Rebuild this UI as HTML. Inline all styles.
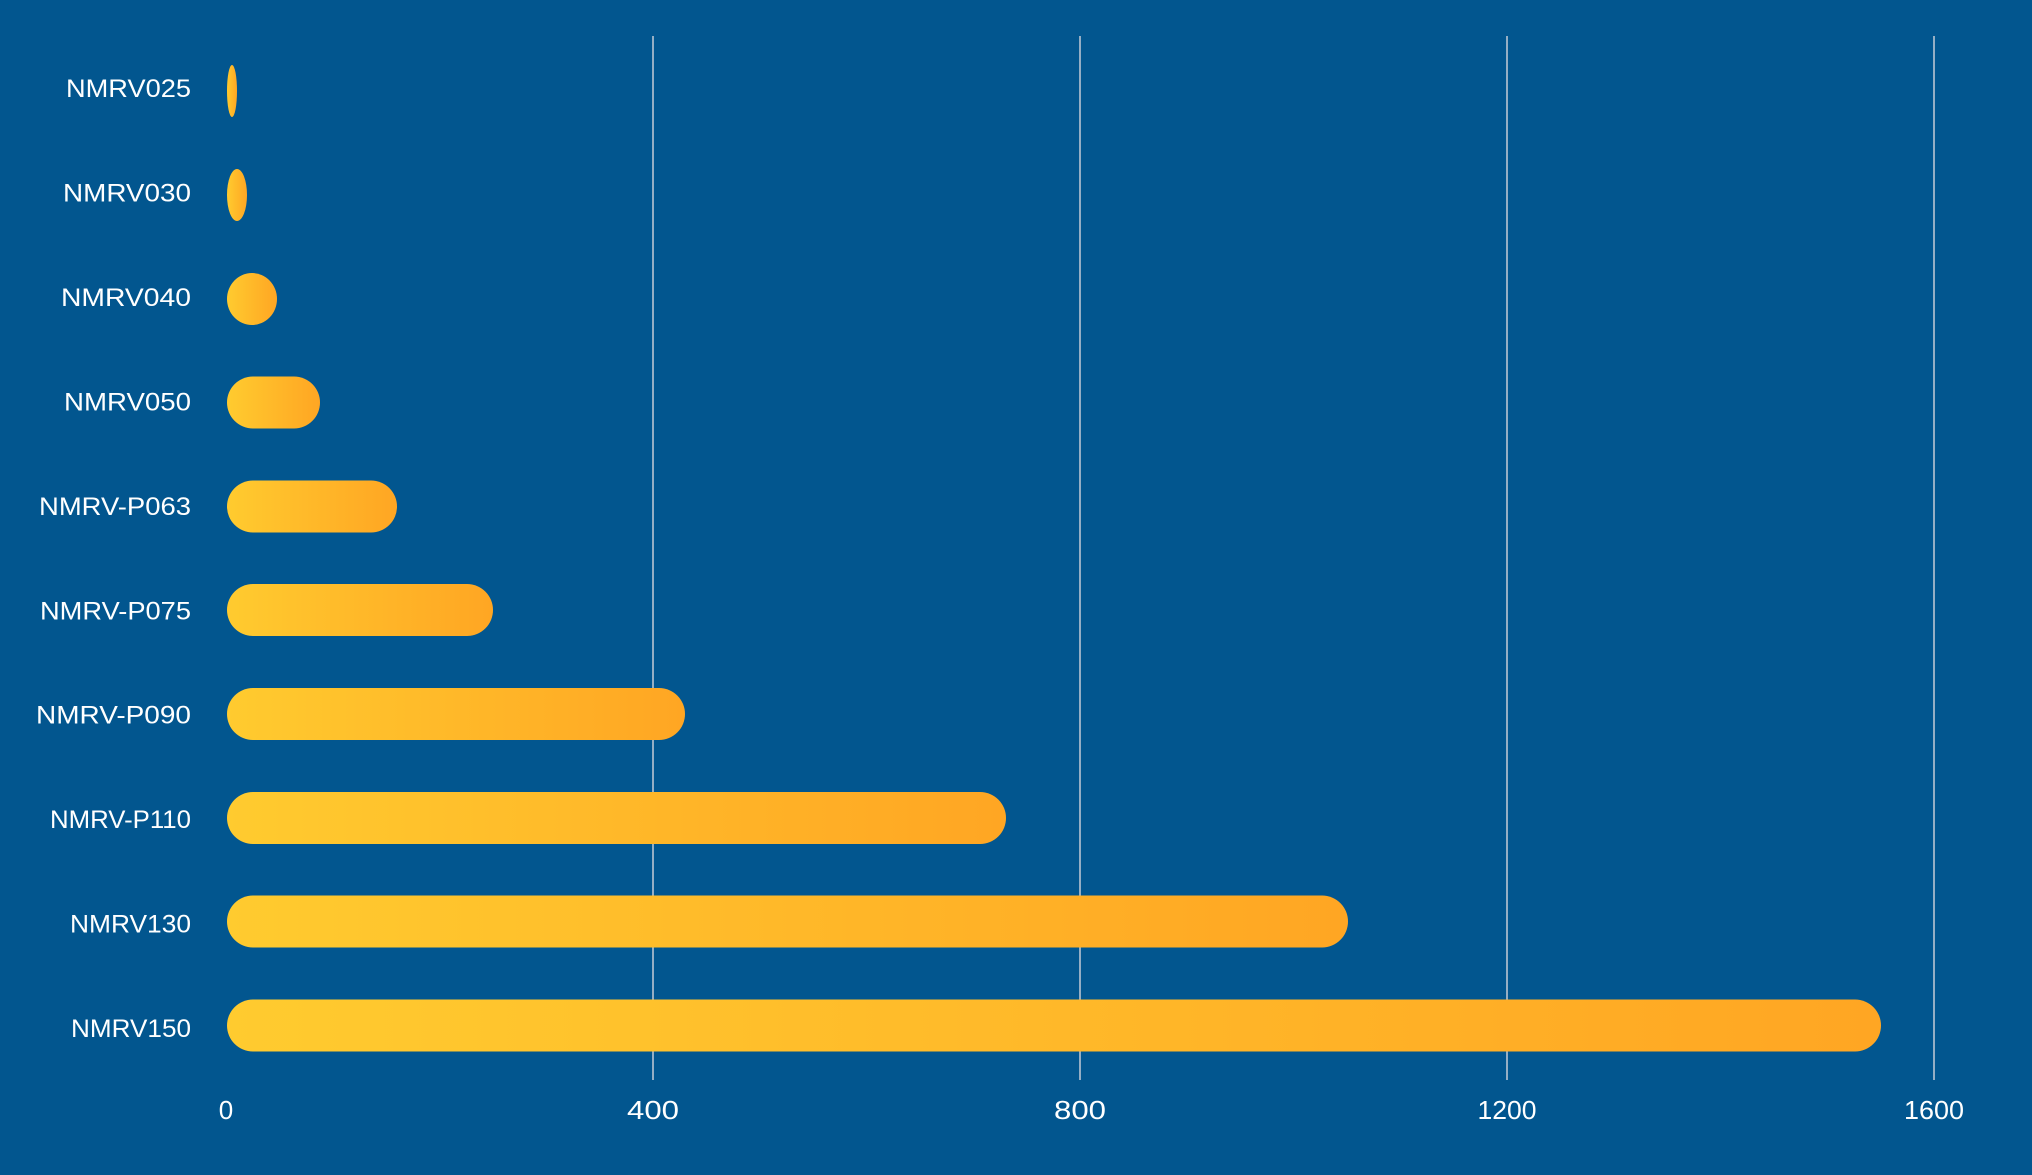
<!DOCTYPE html>
<html>
<head>
<meta charset="utf-8">
<style>
  html, body { margin: 0; padding: 0; background: #02568F; }
  body { width: 2032px; height: 1175px; overflow: hidden; }
  svg { display: block; }
  text { font-family: "Liberation Sans", "DejaVu Sans", sans-serif; fill: #ffffff; }
</style>
</head>
<body>
<svg width="2032" height="1175" viewBox="0 0 2032 1175" xmlns="http://www.w3.org/2000/svg">
  <defs>
    <linearGradient id="g" x1="0" y1="0" x2="1" y2="0">
      <stop offset="0" stop-color="#FFCB2F"/>
      <stop offset="1" stop-color="#FFA623"/>
    </linearGradient>
  </defs>
  <rect x="0" y="0" width="2032" height="1175" fill="#02568F"/>

  <!-- gridlines -->
  <g stroke="#C6CCD6" stroke-width="1.5">
    <line x1="653" y1="36" x2="653" y2="1080"/>
    <line x1="1080" y1="36" x2="1080" y2="1080"/>
    <line x1="1507" y1="36" x2="1507" y2="1080"/>
    <line x1="1934" y1="36" x2="1934" y2="1080"/>
  </g>

  <!-- bars -->
  <g fill="url(#g)">
    <rect x="227" y="65" width="10" height="52" rx="26" ry="26"/>
    <rect x="227" y="169" width="20" height="52" rx="26" ry="26"/>
    <rect x="227" y="273" width="50" height="52" rx="26" ry="26"/>
    <rect x="227" y="376.5" width="93" height="52" rx="26" ry="26"/>
    <rect x="227" y="480.5" width="170" height="52" rx="26" ry="26"/>
    <rect x="227" y="584" width="266" height="52" rx="26" ry="26"/>
    <rect x="227" y="688" width="458" height="52" rx="26" ry="26"/>
    <rect x="227" y="792" width="779" height="52" rx="26" ry="26"/>
    <rect x="227" y="895.5" width="1121" height="52" rx="26" ry="26"/>
    <rect x="227" y="999.5" width="1654" height="52" rx="26" ry="26"/>
  </g>

  <!-- y labels -->
  <g font-size="25" text-anchor="end">
    <text x="191" y="97" textLength="125" lengthAdjust="spacingAndGlyphs">NMRV025</text>
    <text x="191" y="201.5" textLength="128" lengthAdjust="spacingAndGlyphs">NMRV030</text>
    <text x="191" y="306" textLength="130" lengthAdjust="spacingAndGlyphs">NMRV040</text>
    <text x="191" y="410.4" textLength="127" lengthAdjust="spacingAndGlyphs">NMRV050</text>
    <text x="191" y="515" textLength="152" lengthAdjust="spacingAndGlyphs">NMRV-P063</text>
    <text x="191" y="619.3" textLength="151" lengthAdjust="spacingAndGlyphs">NMRV-P075</text>
    <text x="191" y="723.7" textLength="155" lengthAdjust="spacingAndGlyphs">NMRV-P090</text>
    <text x="191" y="828.2" textLength="141" lengthAdjust="spacingAndGlyphs">NMRV-P110</text>
    <text x="191" y="932.6" textLength="121" lengthAdjust="spacingAndGlyphs">NMRV130</text>
    <text x="191" y="1037" textLength="120" lengthAdjust="spacingAndGlyphs">NMRV150</text>
  </g>

  <!-- x tick labels -->
  <g font-size="26" text-anchor="middle">
    <text x="226" y="1119">0</text>
    <text x="653" y="1119" textLength="52" lengthAdjust="spacingAndGlyphs">400</text>
    <text x="1080" y="1119" textLength="52" lengthAdjust="spacingAndGlyphs">800</text>
    <text x="1507" y="1119" textLength="59" lengthAdjust="spacingAndGlyphs">1200</text>
    <text x="1934" y="1119" textLength="60" lengthAdjust="spacingAndGlyphs">1600</text>
  </g>
</svg>
</body>
</html>
